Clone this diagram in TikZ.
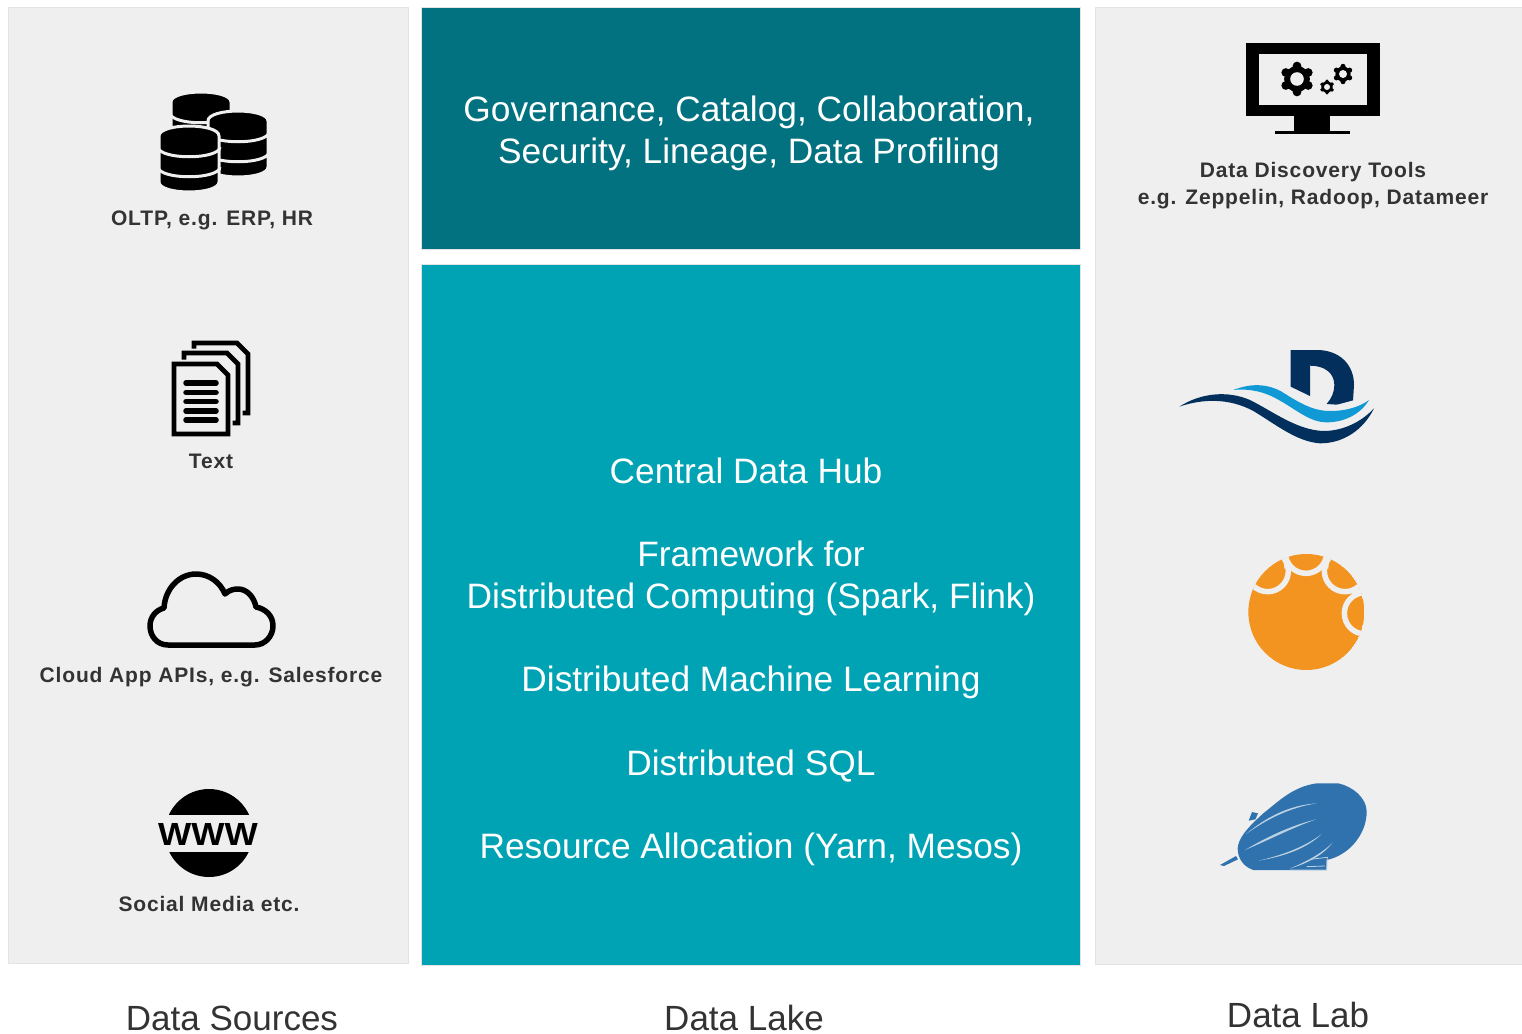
\documentclass[tikz,border=0pt]{standalone}
\usepackage{fontspec}
\setmainfont{Liberation Sans}
\newfontfamily\labfont[LetterSpace=4]{Liberation Sans Bold}
\definecolor{panelbg}{HTML}{EFEFEF}
\definecolor{panelline}{HTML}{E3E3E3}
\definecolor{govteal}{HTML}{027180}
\definecolor{hubteal}{HTML}{00A3B4}
\definecolor{navyd}{HTML}{022F5C}
\definecolor{bluew}{HTML}{1199D6}
\definecolor{orangeb}{HTML}{F39420}
\definecolor{zepblue}{HTML}{2F72AD}
\definecolor{zeplight}{HTML}{BBD0E3}
\tikzset{
  panel/.style={fill=panelbg,draw=panelline,line width=1pt},
  block/.style={draw=panelline,line width=1pt},
  bigtext/.style={anchor=base,text=white,inner sep=0pt,font=\fontsize{35.3}{42}\selectfont},
  captiontext/.style={anchor=base,text=black!80,inner sep=0pt,font=\fontsize{35}{42}\selectfont},
  smalltext/.style={anchor=base,text=black!80,inner sep=0pt,font=\labfont\fontsize{21}{26}\selectfont},
  pagesheet/.style={line width=4.6pt,miter limit=10},
  dbstack/.pic={
    \fill[black,draw=panelbg,line width=3pt] (-30,10) .. controls (-30,-3.3) and (30,-3.3) .. (30,10)
      -- (30,56) .. controls (30,69.3) and (-30,69.3) .. (-30,56) -- cycle;
    \draw[panelbg,line width=3pt] (-31,21) .. controls (-30,34) and (30,34) .. (31,21);
    \draw[panelbg,line width=3pt] (-31,41) .. controls (-30,54) and (30,54) .. (31,41);
  },
  gearicon/.pic={
    \fill[black] (0,0) circle[radius=.76];
    \foreach \a in {30,90,...,330}{\fill[black] (\a:.76) circle[radius=.26];}
    \fill[panelbg] (0,0) circle[radius=.40];
  }
}
\begin{document}
\begin{tikzpicture}[x=1pt,y=-1pt]
\useasboundingbox (0,0) rectangle (1522,1033);
\fill[white] (0,0) rectangle (1522,1033);
% panels
\path[panel] (8,8) rectangle (408.5,963);
\path[panel] (1095,8) rectangle (1522,964);
\path[block,fill=govteal] (421.5,8) rectangle (1080.5,249);
\path[block,fill=hubteal] (421.5,264.5) rectangle (1080.5,965);
% centre text
\node[bigtext] (gov1) at (749,121) {Governance, Catalog, Collaboration,};
\node[bigtext] (gov2) at (749,163) {Security, Lineage, Data Profiling};
\node[bigtext] (hub) at (746,483) {Central Data Hub};
\node[bigtext] (fw1) at (751,566) {Framework for};
\node[bigtext] (fw2) at (751,608) {Distributed Computing (Spark, Flink)};
\node[bigtext] (ml) at (751,691) {Distributed Machine Learning};
\node[bigtext] (sql) at (751,775) {Distributed SQL};
\node[bigtext] (res) at (751,858) {Resource Allocation (Yarn, Mesos)};
% captions
\node[captiontext] (cap1) at (232,1030) {Data Sources};
\node[captiontext] (cap2) at (744,1030) {Data Lake};
\node[captiontext] (cap3) at (1298,1027) {Data Lab};
% small labels
\node[smalltext] (oltp) at (212,225) {OLTP, e.g. ERP, HR};
\node[smalltext] (txt) at (211,468.5) {Text};
\node[smalltext] (cloud) at (211,682) {Cloud App APIs, e.g. Salesforce};
\node[smalltext] (social) at (209,911) {Social Media etc.};
\node[smalltext] (tools1) at (1313,177) {Data Discovery Tools};
\node[smalltext] (tools2) at (1313,204) {e.g. Zeppelin, Radoop, Datameer};
% database icon
\pic at (201,92) {dbstack};
\pic at (238,111) {dbstack};
\pic at (189,126) {dbstack};
% document icon
\foreach \dx/\dy in {20/-21,10/-11,0/0}{
  \begin{scope}[shift={(\dx,\dy)}]
    \path[fill=panelbg,draw=panelbg,line width=9pt] (174,364) -- (217,364) -- (228,375) -- (228,434) -- (174,434) -- cycle;
    \path[fill=panelbg,draw=black,pagesheet] (174,364) -- (217,364) -- (228,375) -- (228,434) -- (174,434) -- cycle;
  \end{scope}
}
\foreach \ly in {383,392.5,401.5,411,420}{
  \draw[black,line width=5.5pt,line cap=round] (186,\ly) -- (216,\ly);
}
% cloud icon
\draw[black,line width=5.5pt,line join=round,fill=panelbg]
  (168,645) .. controls (157,645) and (150,636) .. (150,626)
  .. controls (150,617) and (156,610) .. (164,608)
  .. controls (165,589) and (179,574) .. (196,574)
  .. controls (209,574) and (220,582) .. (225,594)
  .. controls (229,590) and (234,589) .. (238,589)
  .. controls (247,589) and (254,597) .. (256,607)
  .. controls (266,609) and (273,616) .. (273,626)
  .. controls (273,636) and (265,645) .. (255,645) -- cycle;
% www icon
\begin{scope}
  \clip (150,780) rectangle (270,814);
  \fill[black] (209,833) circle[radius=44];
\end{scope}
\begin{scope}
  \clip (150,852) rectangle (270,885);
  \fill[black] (209,833) circle[radius=44];
\end{scope}
\node[inner sep=0pt,anchor=base,xscale=1.1,font=\bfseries\fontsize{32}{32}\selectfont] (www) at (208,845) {WWW};
% monitor icon
\fill[black] (1246,43) rectangle (1380,116);
\fill[panelbg] (1259,54) rectangle (1367,105);
\fill[black] (1294,116) rectangle (1330,131);
\fill[black] (1275,130.5) rectangle (1350,134);
\begin{scope}[shift={(1297,79)},x=17pt,y=17pt]\pic {gearicon};\end{scope}
\begin{scope}[shift={(1327,87)},x=7.5pt,y=7.5pt]\pic {gearicon};\end{scope}
\begin{scope}[shift={(1343,74)},x=10pt,y=10pt]\pic {gearicon};\end{scope}
% D logo
\begin{scope}[shift={(1170,335)},x=.33333pt,y=-.33333pt]
  \fill[navyd] (362,45) -- (440,45) .. controls (510,45) and (552,90) .. (552,150)
    -- (548,212) -- (470,207) .. controls (485,190) and (493,170) .. (493,150)
    .. controls (493,115) and (465,92) .. (420,92) -- (420,183) -- (362,155) -- cycle;
  \fill[panelbg] (180,150) -- (320,150) -- (420,195) -- (480,215) -- (610,180) -- (625,215) -- (540,262) -- (470,275) -- (400,250) -- (320,205) -- (250,180) -- cycle;
  \fill[bluew] (190,165) .. controls (240,145) and (290,145) .. (335,170)
    .. controls (390,205) and (430,228) .. (480,228)
    .. controls (530,228) and (570,215) .. (597,195)
    .. controls (570,240) and (520,262) .. (470,262)
    .. controls (420,262) and (380,225) .. (330,197)
    .. controls (285,170) and (240,160) .. (190,165) -- cycle;
  \fill[navyd] (28,215) .. controls (90,175) and (170,165) .. (240,195)
    .. controls (310,230) and (380,285) .. (460,288)
    .. controls (520,288) and (575,260) .. (612,220)
    .. controls (580,285) and (520,325) .. (450,325)
    .. controls (380,320) and (320,270) .. (250,228)
    .. controls (180,190) and (100,190) .. (28,215) -- cycle;
\end{scope}
% orange logo
\begin{scope}[shift={(1230,540)},x=.33333pt,y=-.33333pt]
  \begin{scope}
    \clip (229,216) circle[radius=174];
    \fill[orangeb] (229,216) circle[radius=174];
    \draw[panelbg,line width=5.5pt] (228,38) circle[radius=62];
    \draw[panelbg,line width=5.5pt] (113,93) circle[radius=62];
    \draw[panelbg,line width=5.5pt] (345,93) circle[radius=62];
    \draw[panelbg,line width=5.5pt] (405,220) circle[radius=62];
    \draw[panelbg,line width=4.5pt] (170,85) -- (163,30);
    \draw[panelbg,line width=4.5pt] (288,85) -- (295,30);
    \draw[panelbg,line width=4pt] (365,160) -- (420,145);
  \end{scope}
\end{scope}
% zeppelin logo
\begin{scope}[shift={(1210,770)},x=.33333pt,y=-.33333pt]
  \fill[zepblue] (83,235) .. controls (85,205) and (110,175) .. (160,130)
    .. controls (210,90) and (250,50) .. (320,40)
    -- (385,40) .. controls (430,50) and (470,85) .. (470,125)
    .. controls (470,190) and (420,255) .. (350,270)
    -- (350,300) -- (130,300) .. controls (100,290) and (83,265) .. (83,235) -- cycle;
  \fill[zepblue] (116,152) -- (126,126) -- (144,130) -- (136,148) -- cycle;
  \fill[zepblue] (30,285) -- (78,258) -- (84,268) -- (42,288) -- cycle;
  \fill[zeplight] (108,192) .. controls (170,140) and (240,105) .. (320,100)
    .. controls (240,112) and (170,148) .. (108,192) -- cycle;
  \fill[zeplight] (105,240) .. controls (180,195) and (250,165) .. (318,148)
    .. controls (250,172) and (180,208) .. (105,240) -- cycle;
  \fill[zeplight] (145,272) .. controls (220,255) and (285,230) .. (335,192)
    .. controls (290,236) and (220,260) .. (145,272) -- cycle;
  \fill[zeplight] (238,296) .. controls (290,275) and (335,250) .. (368,218)
    .. controls (340,254) and (295,280) .. (238,296) -- cycle;
  \draw[zeplight,line width=.8pt] (240,300) -- (350,300) -- (352,262) -- (300,268);
  \draw[zeplight,line width=.8pt] (290,290) -- (345,288);
\end{scope}
\end{tikzpicture}
\end{document}
